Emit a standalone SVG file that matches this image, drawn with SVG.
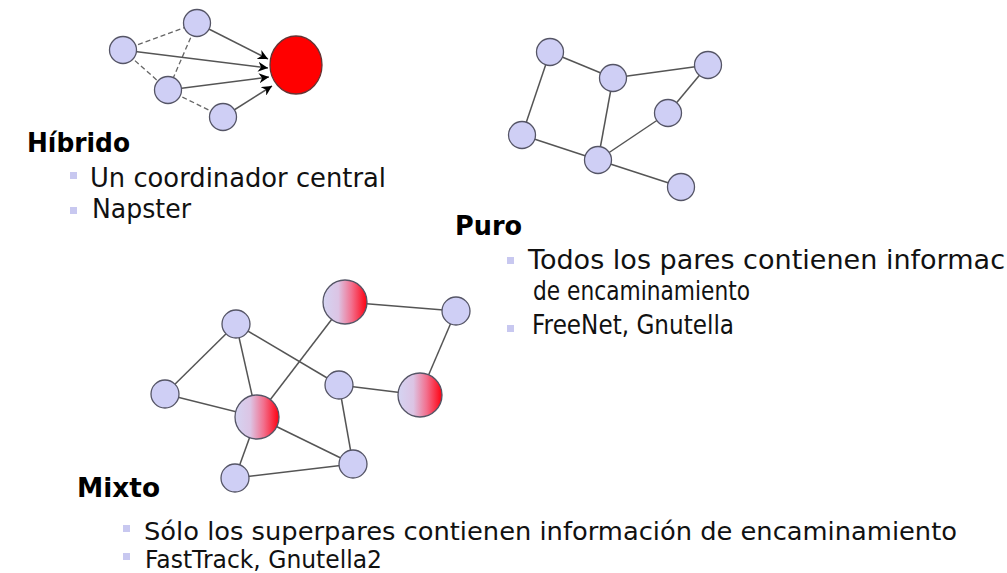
<svg xmlns="http://www.w3.org/2000/svg" width="1007" height="573" viewBox="0 0 1007 573">
<defs>
<linearGradient id="sup" x1="0" y1="0" x2="1" y2="0">
<stop offset="0" stop-color="#d4d4f2"/>
<stop offset="0.35" stop-color="#dcc4e4"/>
<stop offset="0.65" stop-color="#f2708e"/>
<stop offset="1" stop-color="#ff0010"/>
</linearGradient>
<marker id="arr" viewBox="0 0 10 10" refX="10" refY="5" markerWidth="10" markerHeight="10" markerUnits="userSpaceOnUse" orient="auto">
<path d="M0,0 L10,5 L0,10 L3,5 Z" fill="#000"/>
</marker>
</defs>
<style>
.n{fill:#cfcff5;stroke:#555566;stroke-width:1.3}
.s{fill:url(#sup);stroke:#555566;stroke-width:1.3}
.r{fill:#ff0000;stroke:#663333;stroke-width:1.3}
.e{stroke:#555;stroke-width:1.5;fill:none}
.d{stroke:#666;stroke-width:1.3;stroke-dasharray:5 3;fill:none}
.a{stroke:#555;stroke-width:1.5;fill:none;marker-end:url(#arr)}
.h{font-family:"DejaVu Sans",Verdana,sans-serif;font-weight:bold;font-size:26px;fill:#000}
.t{font-family:"DejaVu Sans",Verdana,sans-serif;font-size:27px;fill:#111}
.m{font-family:"DejaVu Sans",Verdana,sans-serif;font-size:25.5px;fill:#111}
.b{fill:#c8c8f0}
</style>
<rect width="1007" height="573" fill="#fff"/>
<g id="connectors">
<line class="d" x1="123" y1="50" x2="197" y2="23"/>
<line class="d" x1="123" y1="50" x2="168" y2="90"/>
<line class="d" x1="197" y1="23" x2="168" y2="90"/>
<line class="d" x1="168" y1="90" x2="223" y2="117"/>
<line class="a" x1="197" y1="23" x2="268" y2="59"/>
<line class="a" x1="123" y1="50" x2="268" y2="68"/>
<line class="a" x1="168" y1="90" x2="269" y2="77"/>
<line class="a" x1="223" y1="117" x2="272" y2="86"/>
<line class="e" x1="550" y1="52" x2="613" y2="78"/>
<line class="e" x1="550" y1="52" x2="522" y2="135"/>
<line class="e" x1="613" y1="78" x2="708" y2="65"/>
<line class="e" x1="613" y1="78" x2="598" y2="160"/>
<line class="e" x1="708" y1="65" x2="668" y2="113"/>
<line class="e" x1="668" y1="113" x2="598" y2="160"/>
<line class="e" x1="522" y1="135" x2="598" y2="160"/>
<line class="e" x1="598" y1="160" x2="681" y2="187"/>
<line class="e" x1="236" y1="324" x2="165" y2="394"/>
<line class="e" x1="236" y1="324" x2="257" y2="417"/>
<line class="e" x1="236" y1="324" x2="339" y2="385"/>
<line class="e" x1="345" y1="302" x2="257" y2="417"/>
<line class="e" x1="345" y1="302" x2="456" y2="311"/>
<line class="e" x1="456" y1="311" x2="420" y2="395"/>
<line class="e" x1="339" y1="385" x2="420" y2="395"/>
<line class="e" x1="339" y1="385" x2="353" y2="464"/>
<line class="e" x1="165" y1="394" x2="257" y2="417"/>
<line class="e" x1="257" y1="417" x2="353" y2="464"/>
<line class="e" x1="257" y1="417" x2="235" y2="478"/>
<line class="e" x1="235" y1="478" x2="353" y2="464"/>
</g>
<g id="h-red"><ellipse class="r" cx="296" cy="65" rx="26" ry="29"/></g>
<g id="h-a"><circle class="n" cx="197" cy="23" r="13.5"/></g>
<g id="h-b"><circle class="n" cx="123" cy="50" r="13.5"/></g>
<g id="h-c"><circle class="n" cx="168" cy="90" r="13.5"/></g>
<g id="h-d"><circle class="n" cx="223" cy="117" r="13.5"/></g>
<g id="p-1"><circle class="n" cx="550" cy="52" r="13.5"/></g>
<g id="p-2"><circle class="n" cx="613" cy="78" r="13.5"/></g>
<g id="p-3"><circle class="n" cx="708" cy="65" r="13.5"/></g>
<g id="p-4"><circle class="n" cx="668" cy="113" r="13.5"/></g>
<g id="p-5"><circle class="n" cx="522" cy="135" r="13.5"/></g>
<g id="p-6"><circle class="n" cx="598" cy="160" r="13.5"/></g>
<g id="p-7"><circle class="n" cx="681" cy="187" r="13.5"/></g>
<g id="m-1"><circle class="n" cx="236" cy="324" r="14"/></g>
<g id="m-2"><circle class="n" cx="456" cy="311" r="14"/></g>
<g id="m-3"><circle class="n" cx="165" cy="394" r="14"/></g>
<g id="m-4"><circle class="n" cx="339" cy="385" r="14"/></g>
<g id="m-5"><circle class="n" cx="353" cy="464" r="14"/></g>
<g id="m-6"><circle class="n" cx="235" cy="478" r="14"/></g>
<g id="s-1"><circle class="s" cx="345" cy="302" r="22"/></g>
<g id="s-2"><circle class="s" cx="257" cy="417" r="22"/></g>
<g id="s-3"><circle class="s" cx="420" cy="395" r="22"/></g>
<g id="text-hibrido">
<text class="h" x="27" y="152" textLength="103" lengthAdjust="spacingAndGlyphs">Híbrido</text>
<rect class="b" x="70" y="172" width="7" height="7"/>
<text class="t" x="90" y="187" textLength="296" lengthAdjust="spacingAndGlyphs">Un coordinador central</text>
<rect class="b" x="70" y="207" width="7" height="7"/>
<text class="t" x="92" y="218" textLength="99" lengthAdjust="spacingAndGlyphs">Napster</text>
</g>
<g id="text-puro">
<text class="h" x="455" y="235" textLength="67" lengthAdjust="spacingAndGlyphs">Puro</text>
<rect class="b" x="507" y="257" width="7" height="7"/>
<text class="t" x="528" y="269" textLength="477" lengthAdjust="spacingAndGlyphs">Todos los pares contienen informac</text>
<text class="t" x="533" y="300" textLength="217" lengthAdjust="spacingAndGlyphs">de encaminamiento</text>
<rect class="b" x="507" y="325" width="7" height="7"/>
<text class="t" x="532" y="334" textLength="202" lengthAdjust="spacingAndGlyphs">FreeNet, Gnutella</text>
</g>
<g id="text-mixto">
<text class="h" x="77" y="497" textLength="83" lengthAdjust="spacingAndGlyphs">Mixto</text>
<rect class="b" x="123" y="525" width="7" height="7"/>
<text class="m" x="144" y="540" textLength="813" lengthAdjust="spacingAndGlyphs">Sólo los superpares contienen información de encaminamiento</text>
<rect class="b" x="123" y="553" width="7" height="7"/>
<text class="m" x="145" y="568" textLength="237" lengthAdjust="spacingAndGlyphs">FastTrack, Gnutella2</text>
</g>
</svg>
